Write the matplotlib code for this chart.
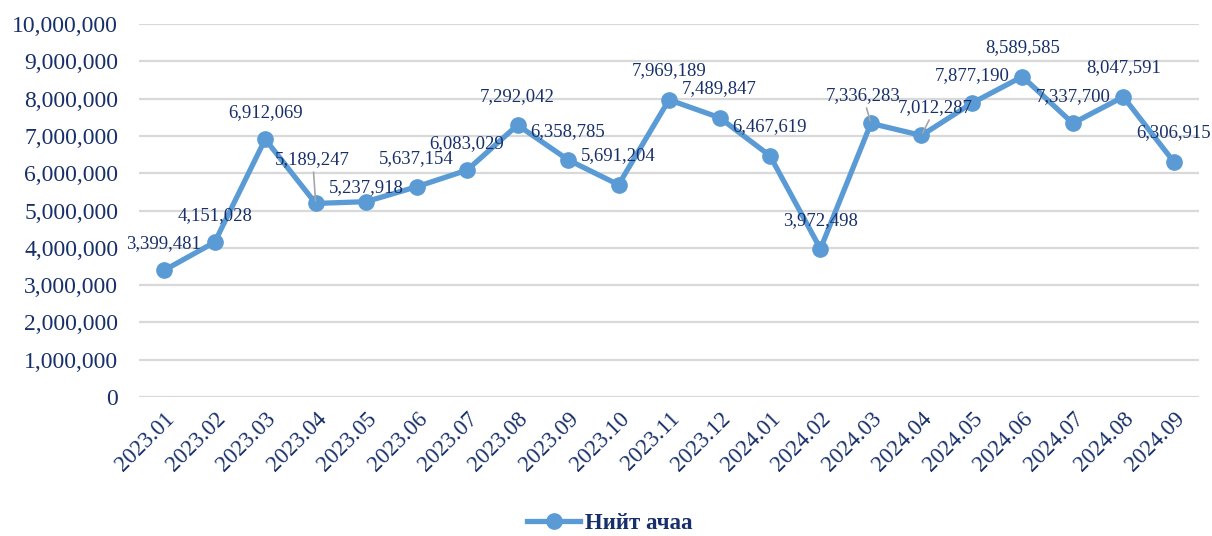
import matplotlib
matplotlib.use("Agg")
import matplotlib.pyplot as plt
import matplotlib.ticker as ticker

months = ["2023.01", "2023.02", "2023.03", "2023.04", "2023.05", "2023.06",
          "2023.07", "2023.08", "2023.09", "2023.10", "2023.11", "2023.12",
          "2024.01", "2024.02", "2024.03", "2024.04", "2024.05", "2024.06",
          "2024.07", "2024.08", "2024.09"]
cargo = [3399481, 4151028, 6912069, 5189247, 5237918, 5637154,
         6083029, 7292042, 6358785, 5691204, 7969189, 7489847,
         6467619, 3972498, 7336283, 7012287, 7877190, 8589585,
         7337700, 8047591, 6306915]
series_name = "Нийт ачаа"

# label offsets in pixels (dx, dy) and whether a leader line is drawn
label_offsets = [(-1, 27), (0, 27), (0, 27), (-3, 44), (0, 14), (0, 28),
                 (0, 27), (0, 28), (0, 28), (0, 29), (0, 29), (0, 29),
                 (0, 29), (0, 28), (-8, 28), (14, 28), (0, 28), (0, 29),
                 (0, 27), (0, 29), (0, 29)]
leader = {3, 14, 15}

LINE = "#5B9BD5"
TEXT = "#18306A"
GRID = "#D9D9D9"

plt.rcParams["font.family"] = ["Liberation Serif", "DejaVu Serif"]

fig = plt.figure(figsize=(12.12, 5.36), dpi=100)
ax = fig.add_axes([0.1147, 0.2593, 0.8746, 0.6959])

x = list(range(len(months)))
ax.plot(x, cargo, color=LINE, linewidth=3.8, marker="o", markersize=11,
        label=series_name, zorder=3)

for i, (xi, v) in enumerate(zip(x, cargo)):
    dx, dy = label_offsets[i]
    kw = {}
    if i in leader:
        kw["arrowprops"] = dict(arrowstyle="-", color="#A6A6A6", lw=1.2,
                                shrinkA=1, shrinkB=2)
    ax.annotate(f"{v:,}", (xi, v), xytext=(dx, dy), textcoords="offset pixels",
                ha="center", va="center", fontsize=13.5, color=TEXT, zorder=4, **kw)

ax.set_xlim(-0.5, len(months) - 0.5)
ax.set_ylim(0, 10_000_000)
ax.yaxis.set_major_locator(ticker.MultipleLocator(1_000_000))
ax.yaxis.set_major_formatter(ticker.FuncFormatter(lambda v, p: f"{int(v):,}"))
ax.set_xticks(x)
ax.set_xticklabels(months, rotation=45, ha="right", rotation_mode="anchor")

ax.tick_params(axis="y", length=0, pad=15, labelsize=17, labelcolor=TEXT)
ax.tick_params(axis="x", length=0, pad=8, labelsize=16.5, labelcolor=TEXT)
ax.grid(axis="y", color=GRID, linewidth=1.6)
ax.set_axisbelow(True)
for s in ax.spines.values():
    s.set_visible(False)

leg = fig.legend(loc="center", bbox_to_anchor=(0.503, 0.024), frameon=False,
                 prop={"size": 16.5, "weight": "bold"}, handlelength=2.3,
                 handletextpad=0.2)
for t in leg.get_texts():
    t.set_color(TEXT)

fig.savefig("out.png", dpi=100, facecolor="white")
